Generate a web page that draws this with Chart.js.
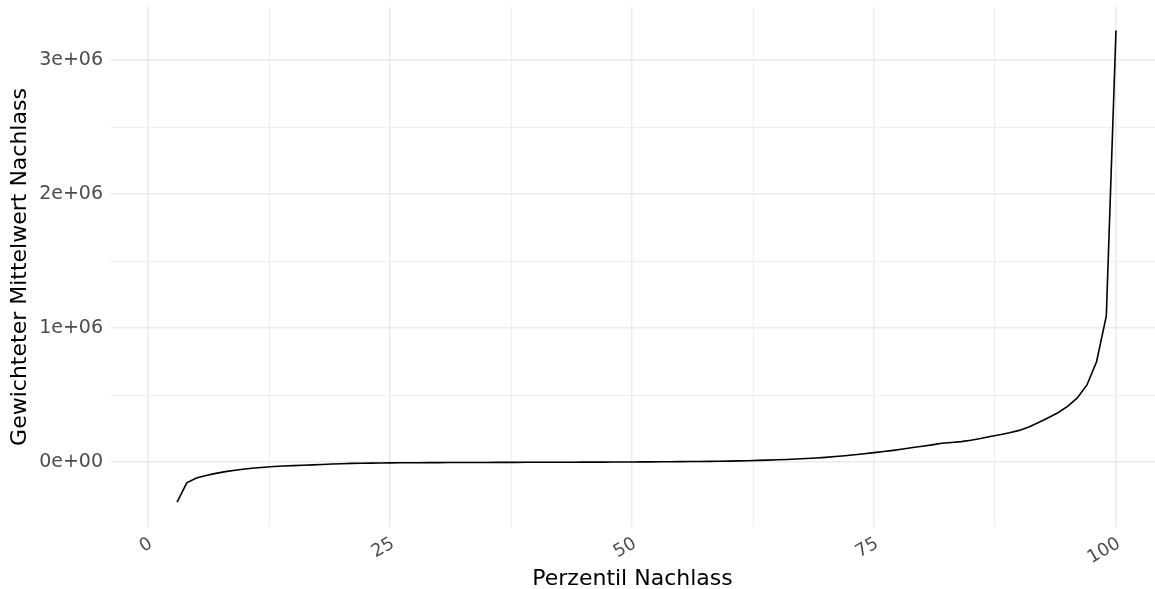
<!DOCTYPE html>
<html>
<head>
<meta charset="utf-8">
<script src="https://cdn.jsdelivr.net/npm/chart.js@4/dist/chart.umd.min.js"></script>
<style>
  html, body { margin: 0; padding: 0; background: #fff; }
  #wrap { width: 1155px; height: 589px; }
</style>
</head>
<body>
<div id="wrap"><canvas id="chart" width="1155" height="589"></canvas></div>
<script>
// percentile (x) and weighted mean estate (y)
const percentiles = [
  3, 4, 5, 6, 7, 8, 9, 10, 11, 12, 13, 14, 15, 16, 17, 18, 19, 20,
  21, 22, 23, 24, 25, 26, 27, 28, 29, 30, 31, 32, 33, 34, 35, 36, 37, 38, 39, 40,
  41, 42, 43, 44, 45, 46, 47, 48, 49, 50, 51, 52, 53, 54, 55, 56, 57, 58, 59, 60,
  61, 62, 63, 64, 65, 66, 67, 68, 69, 70, 71, 72, 73, 74, 75, 76, 77, 78, 79, 80,
  81, 82, 83, 84, 85, 86, 87, 88, 89, 90, 91, 92, 93, 94, 95, 96, 97, 98, 99, 100
];
const meanValues = [
  -300000, -155000, -120000, -100000, -85000, -72000, -62000, -52000, -45000, -39000,
  -34000, -30000, -27000, -24000, -21000, -18000, -15000, -12500,
  -10500, -9000, -8000, -7200, -6500, -6000, -5500, -5000, -4700, -4400,
  -4100, -3800, -3500, -3300, -3100, -2900, -2700, -2500, -2300, -2100,
  -1900, -1700, -1500, -1300, -1000, -800, -500, -200, 100, 500,
  900, 1300, 1800, 2300, 2900, 3500, 4200, 5000, 6000, 7000,
  8500, 10000, 12000, 14000, 16500, 19000, 22000, 26000, 30000, 35000,
  41000, 47000, 54000, 62000, 70000, 78000, 87000, 97000, 108000, 118000,
  128000, 140000, 146000, 152000, 162000, 175000, 190000, 204000, 218000, 236000,
  262000, 295000, 330000, 368000, 415000, 478000, 575000, 750000, 1090000, 3220000
];

const xTickValues = [0, 25, 50, 75, 100];
const xTickLabels = ['0', '25', '50', '75', '100'];
const xMinorValues = [12.5, 37.5, 62.5, 87.5];
const yTickValues = [0, 1000000, 2000000, 3000000];
const yTickLabels = ['0e+00', '1e+06', '2e+06', '3e+06'];
const yMinorValues = [500000, 1500000, 2500000];

const points = percentiles.map((p, i) => ({ x: p, y: meanValues[i] }));

const gridColor = '#EBEBEB';
const tickColor = '#4D4D4D';
const fontFamily = '"DejaVu Sans", Verdana, sans-serif';

function setTicks(major, minor) {
  return function (scale) {
    scale.ticks = major.concat(minor).sort((a, b) => a - b).map(v => ({ value: v }));
  };
}
function labelFor(values, labels) {
  return function (value) {
    const i = values.indexOf(value);
    return i >= 0 ? labels[i] : '';
  };
}
function gridWidth(values) {
  return ctx => (ctx.tick && values.indexOf(ctx.tick.value) >= 0 ? 1.5 : 0.8);
}
// fixed box sizes so the plot panel sits where the reference has it
function fixBox(size) {
  return function (scale) {
    if (scale.isHorizontal()) scale.height = size; else scale.width = size;
    scale.paddingTop = 0;
    scale.paddingBottom = 0;
    scale.paddingLeft = 0;
    scale.paddingRight = 0;
  };
}

new Chart(document.getElementById('chart'), {
  type: 'line',
  data: {
    datasets: [{
      data: points,
      borderColor: '#000000',
      borderWidth: 1.6,
      pointRadius: 0,
      tension: 0,
      fill: false
    }]
  },
  options: {
    responsive: false,
    animation: false,
    layout: { padding: { top: 7, left: 0, right: 0, bottom: 0 } },
    plugins: { legend: { display: false }, tooltip: { enabled: false } },
    scales: {
      x: {
        type: 'linear',
        min: -3.93,
        max: 104.03,
        afterBuildTicks: setTicks(xTickValues, xMinorValues),
        afterFit: fixBox(62),
        border: { display: false },
        grid: { color: gridColor, lineWidth: gridWidth(xTickValues), drawTicks: false },
        ticks: {
          autoSkip: false,
          minRotation: 30,
          maxRotation: 30,
          padding: 6,
          labelOffset: 3,
          color: tickColor,
          font: { family: fontFamily, size: 18 },
          callback: labelFor(xTickValues, xTickLabels)
        },
        title: {
          display: true,
          text: 'Perzentil Nachlass',
          color: '#000000',
          padding: 0,
          font: { family: fontFamily, size: 22, lineHeight: 0.85 }
        }
      },
      y: {
        type: 'linear',
        min: -485000,
        max: 3396000,
        afterBuildTicks: setTicks(yTickValues, yMinorValues),
        afterFit: fixBox(110),
        border: { display: false },
        grid: { color: gridColor, lineWidth: gridWidth(yTickValues), drawTicks: false },
        ticks: {
          autoSkip: false,
          padding: 7,
          color: tickColor,
          font: { family: fontFamily, size: 19 },
          callback: labelFor(yTickValues, yTickLabels)
        },
        title: {
          display: true,
          text: 'Gewichteter Mittelwert Nachlass',
          color: '#000000',
          padding: { top: 7, bottom: 0 },
          font: { family: fontFamily, size: 22, lineHeight: 1.2 }
        }
      }
    }
  }
});
</script>
</body>
</html>
